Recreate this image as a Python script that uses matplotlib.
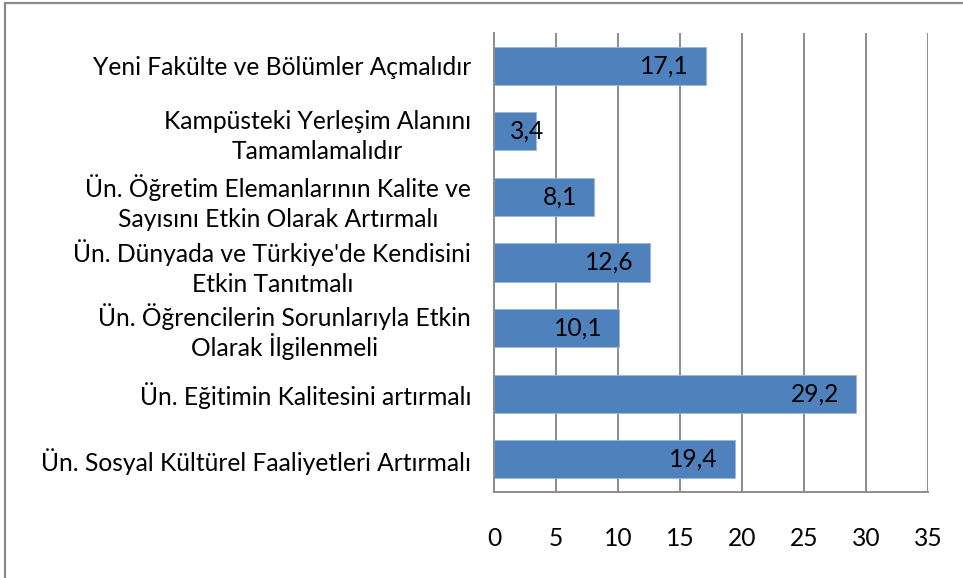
import matplotlib

matplotlib.use("Agg")

import matplotlib.pyplot as plt
from matplotlib.patches import Rectangle

# Data (top to bottom as shown)
categories = [
    "Yeni Fakülte ve Bölümler Açmalıdır",
    "Kampüsteki Yerleşim Alanını\nTamamlamalıdır",
    "Ün. Öğretim Elemanlarının Kalite ve\nSayısını Etkin Olarak Artırmalı",
    "Ün. Dünyada ve Türkiye'de Kendisini\nEtkin Tanıtmalı",
    "Ün. Öğrencilerin Sorunlarıyla Etkin\nOlarak İlgilenmeli",
    "Ün. Eğitimin Kalitesini artırmalı",
    "Ün. Sosyal Kültürel Faaliyetleri Artırmalı",
]
values = [17.1, 3.4, 8.1, 12.6, 10.1, 29.2, 19.4]
xticks = [0, 5, 10, 15, 20, 25, 30, 35]

BAR_COLOR = "#4F81BD"
GRID_COLOR = "#8C8C8C"
FS = 17.7

plt.rcParams["font.family"] = ["Lato", "DejaVu Sans"]

fig = plt.figure(figsize=(9.63, 5.78), dpi=100)
ax = fig.add_axes([494 / 963, 1 - 492 / 578, (928 - 494) / 963, (492 - 33) / 578])

# outer chart frame (only left/top visible in the crop)
fig.patches.append(
    Rectangle((5 / 963, -0.1), 1.2, 1 - 3 / 578 + 0.1, transform=fig.transFigure,
              fill=False, edgecolor="#8A8A8A", linewidth=1.6)
)

ypos = list(range(len(categories)))
ax.barh(ypos, values, height=0.58, color=BAR_COLOR, edgecolor="#9DB7DA",
        linewidth=0.6, zorder=2)
ax.set_ylim(len(categories) - 0.5, -0.5)
ax.set_xlim(0, 35)

for y, v in zip(ypos, values):
    label = f"{v:.1f}".replace(".", ",")
    if v < 6:
        ax.annotate(label, (0, y), xytext=(16, 0), textcoords="offset pixels",
                    ha="left", va="center", fontsize=FS, color="black", zorder=3)
    else:
        ax.annotate(label, (v, y), xytext=(-17, 0), textcoords="offset pixels",
                    ha="right", va="center", fontsize=FS, color="black", zorder=3)

ax.set_yticks(ypos)
ylabels = ax.set_yticklabels(categories, fontsize=FS, multialignment="center",
                             linespacing=1.35)
# the dotted capital İ makes its line taller in Lato; tighten so spacing matches
for t in ylabels:
    if "İ" in t.get_text():
        t.set_linespacing(1.13)
ax.set_xticks(xticks)
ax.set_xticklabels([str(t) for t in xticks], fontsize=FS)
ax.tick_params(axis="y", length=0, pad=16.5)
ax.tick_params(axis="x", length=0, pad=25)

ax.grid(axis="x", color=GRID_COLOR, linewidth=1.4, zorder=1)
ax.set_axisbelow(True)
for side in ("top", "right"):
    ax.spines[side].set_visible(False)
for side in ("left", "bottom"):
    ax.spines[side].set_color(GRID_COLOR)
    ax.spines[side].set_linewidth(1.4)

fig.savefig("out.png", dpi=100)
